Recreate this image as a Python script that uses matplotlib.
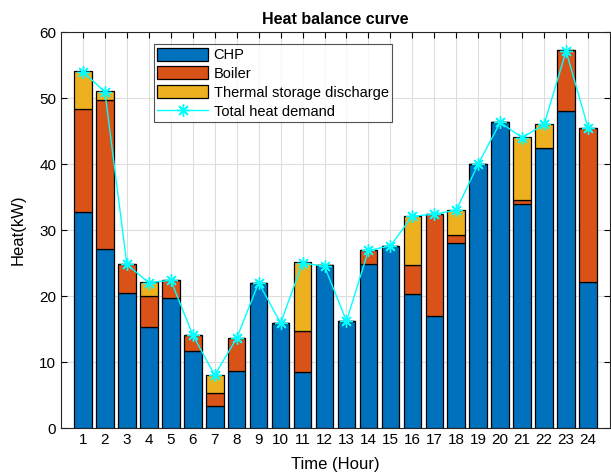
import numpy as np
import matplotlib.pyplot as plt

plt.rcParams['font.family'] = ['Liberation Sans', 'DejaVu Sans']

hours = list(range(1, 25))
chp = [32.7, 27.1, 20.5, 15.3, 19.7, 11.7, 3.3, 8.6, 22.0, 15.9, 8.5, 24.7,
       16.2, 24.9, 27.6, 20.3, 16.9, 28.1, 40.0, 46.4, 34.0, 42.4, 48.0, 22.1]
boiler = [15.6, 22.6, 4.3, 4.7, 2.7, 2.4, 2.0, 5.0, 0.0, 0.0, 6.2, 0.0,
          0.0, 2.0, 0.0, 4.4, 15.5, 1.2, 0.0, 0.0, 0.5, 0.0, 9.3, 23.4]
storage = [5.8, 1.4, 0.0, 2.1, 0.0, 0.0, 2.7, 0.0, 0.0, 0.0, 10.5, 0.0,
           0.0, 0.0, 0.0, 7.4, 0.0, 3.8, 0.0, 0.0, 9.6, 3.7, 0.0, 0.0]
demand = [54.0, 50.9, 24.8, 22.0, 22.4, 14.1, 8.0, 13.6, 22.0, 15.9, 25.0, 24.5,
          16.2, 26.9, 27.6, 32.1, 32.4, 33.0, 40.0, 46.3, 44.0, 46.0, 57.1, 45.5]

fig = plt.figure(figsize=(6.11, 4.76), dpi=100)
ax = fig.add_axes([61/611, 48/476, 549/611, 396/476])

x = np.array(hours)
chp = np.array(chp)
boiler = np.array(boiler)
storage = np.array(storage)

kw = dict(width=0.8, edgecolor='black', linewidth=0.9, zorder=3)
b1 = ax.bar(x, chp, color='#0072BD', label='CHP', **kw)
b2 = ax.bar(x, boiler, bottom=chp, color='#D95319', label='Boiler', **kw)
b3 = ax.bar(x, storage, bottom=chp + boiler, color='#EDB120',
            label='Thermal storage discharge', **kw)
# asterisk marker like MATLAB '*'
l1, = ax.plot(x, demand, color='cyan', marker=(8, 2, 0), markersize=9,
              markeredgewidth=1.0, linewidth=1, label='Total heat demand', zorder=4)

ax.set_xlim(0, 25)
ax.set_ylim(0, 60)
ax.set_xticks(hours)
ax.set_yticks(range(0, 61, 10))
ax.tick_params(direction='in', top=True, right=True, labelsize=11, length=4)
ax.grid(True, color='#dddddd', linewidth=0.8, zorder=0)
ax.set_axisbelow(True)
for s in ax.spines.values():
    s.set_color('#262626')
    s.set_linewidth(0.8)

ax.set_title('Heat balance curve', fontsize=11.5, fontweight='bold', pad=6)
ax.set_xlabel('Time (Hour)', fontsize=12, labelpad=7)
ax.set_ylabel('Heat(kW)', fontsize=12, labelpad=10)

leg = ax.legend(handles=[b1, b2, b3, l1], loc='upper left',
                bbox_to_anchor=(0.169, 0.97), fontsize=10.5,
                frameon=True, fancybox=False, edgecolor='#262626',
                borderpad=0.25, labelspacing=0.3, handlelength=3.5,
                handleheight=1.0, handletextpad=0.35, borderaxespad=0)
leg.get_frame().set_linewidth(0.8)

fig.savefig('out.png', dpi=100)
